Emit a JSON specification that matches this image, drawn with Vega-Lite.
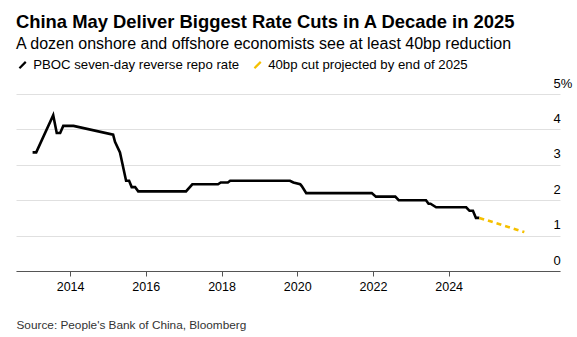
{
  "$schema": "https://vega.github.io/schema/vega-lite/v6.json",
  "autosize": "none",
  "width": 544,
  "height": 177,
  "padding": {"left": 16, "top": 94, "right": 17, "bottom": 66},
  "background": "white",
  "title": {
    "text": "China May Deliver Biggest Rate Cuts in A Decade in 2025",
    "subtitle": "A dozen onshore and offshore economists see at least 40bp reduction",
    "anchor": "start",
    "font": "Liberation Sans",
    "fontSize": 18.4,
    "fontWeight": "bold",
    "color": "#000000",
    "subtitleFont": "Liberation Sans",
    "subtitleFontSize": 16,
    "subtitleColor": "#000000",
    "subtitlePadding": 5,
    "offset": 6
  },
  "datasets": {
    "rates": [
      {"date": "2013-01-04", "rate": 3.35, "series": "PBOC seven-day reverse repo rate"},
      {"date": "2013-02-08", "rate": 3.35, "series": "PBOC seven-day reverse repo rate"},
      {"date": "2013-07-22", "rate": 4.4, "series": "PBOC seven-day reverse repo rate"},
      {"date": "2013-08-25", "rate": 3.9, "series": "PBOC seven-day reverse repo rate"},
      {"date": "2013-09-27", "rate": 3.9, "series": "PBOC seven-day reverse repo rate"},
      {"date": "2013-10-27", "rate": 4.1, "series": "PBOC seven-day reverse repo rate"},
      {"date": "2014-02-03", "rate": 4.1, "series": "PBOC seven-day reverse repo rate"},
      {"date": "2015-02-20", "rate": 3.85, "series": "PBOC seven-day reverse repo rate"},
      {"date": "2015-03-10", "rate": 3.65, "series": "PBOC seven-day reverse repo rate"},
      {"date": "2015-04-27", "rate": 3.35, "series": "PBOC seven-day reverse repo rate"},
      {"date": "2015-06-25", "rate": 2.55, "series": "PBOC seven-day reverse repo rate"},
      {"date": "2015-07-24", "rate": 2.55, "series": "PBOC seven-day reverse repo rate"},
      {"date": "2015-08-18", "rate": 2.37, "series": "PBOC seven-day reverse repo rate"},
      {"date": "2015-09-20", "rate": 2.37, "series": "PBOC seven-day reverse repo rate"},
      {"date": "2015-10-20", "rate": 2.25, "series": "PBOC seven-day reverse repo rate"},
      {"date": "2017-01-23", "rate": 2.25, "series": "PBOC seven-day reverse repo rate"},
      {"date": "2017-03-25", "rate": 2.45, "series": "PBOC seven-day reverse repo rate"},
      {"date": "2017-11-28", "rate": 2.45, "series": "PBOC seven-day reverse repo rate"},
      {"date": "2017-12-24", "rate": 2.5, "series": "PBOC seven-day reverse repo rate"},
      {"date": "2018-03-03", "rate": 2.5, "series": "PBOC seven-day reverse repo rate"},
      {"date": "2018-03-25", "rate": 2.55, "series": "PBOC seven-day reverse repo rate"},
      {"date": "2019-10-23", "rate": 2.55, "series": "PBOC seven-day reverse repo rate"},
      {"date": "2019-11-25", "rate": 2.5, "series": "PBOC seven-day reverse repo rate"},
      {"date": "2020-01-30", "rate": 2.45, "series": "PBOC seven-day reverse repo rate"},
      {"date": "2020-02-14", "rate": 2.4, "series": "PBOC seven-day reverse repo rate"},
      {"date": "2020-03-28", "rate": 2.2, "series": "PBOC seven-day reverse repo rate"},
      {"date": "2021-12-20", "rate": 2.2, "series": "PBOC seven-day reverse repo rate"},
      {"date": "2022-01-29", "rate": 2.1, "series": "PBOC seven-day reverse repo rate"},
      {"date": "2022-08-04", "rate": 2.1, "series": "PBOC seven-day reverse repo rate"},
      {"date": "2022-09-06", "rate": 2.0, "series": "PBOC seven-day reverse repo rate"},
      {"date": "2023-05-27", "rate": 2.0, "series": "PBOC seven-day reverse repo rate"},
      {"date": "2023-06-21", "rate": 1.9, "series": "PBOC seven-day reverse repo rate"},
      {"date": "2023-07-10", "rate": 1.9, "series": "PBOC seven-day reverse repo rate"},
      {"date": "2023-09-02", "rate": 1.8, "series": "PBOC seven-day reverse repo rate"},
      {"date": "2024-06-18", "rate": 1.8, "series": "PBOC seven-day reverse repo rate"},
      {"date": "2024-07-20", "rate": 1.7, "series": "PBOC seven-day reverse repo rate"},
      {"date": "2024-08-22", "rate": 1.7, "series": "PBOC seven-day reverse repo rate"},
      {"date": "2024-09-20", "rate": 1.5, "series": "PBOC seven-day reverse repo rate"},
      {"date": "2024-10-23", "rate": 1.5, "series": "PBOC seven-day reverse repo rate"}
    ],
    "projection": [
      {"date": "2024-10-23", "rate": 1.5, "series": "40bp cut projected by end of 2025"},
      {"date": "2025-12-31", "rate": 1.1, "series": "40bp cut projected by end of 2025"}
    ]
  },
  "encoding": {
    "x": {
      "field": "date",
      "type": "temporal",
      "scale": {"domain": ["2012-07-28", "2026-12-10"]},
      "axis": {
        "values": [{"year": 2014}, {"year": 2016}, {"year": 2018}, {"year": 2020}, {"year": 2022}, {"year": 2024}],
        "format": "%Y",
        "grid": false,
        "domainColor": "#555555",
        "domainWidth": 1,
        "tickColor": "#555555",
        "tickSize": 5,
        "labelFont": "Liberation Sans",
        "labelFontSize": 12.5,
        "labelColor": "#000000",
        "labelPadding": 4,
        "title": "Source: People's Bank of China, Bloomberg",
        "titleFont": "Liberation Sans",
        "titleFontSize": 11.8,
        "titleFontWeight": "normal",
        "titleColor": "#333333",
        "titleAnchor": "start",
        "titleAlign": "left",
        "titleBaseline": "alphabetic",
        "titleX": 0,
        "titleY": 57
      }
    },
    "y": {
      "field": "rate",
      "type": "quantitative",
      "scale": {"domain": [0, 5], "nice": false},
      "axis": {
        "orient": "right",
        "values": [0, 1, 2, 3, 4, 5],
        "labelExpr": "datum.value == 5 ? '5%' : datum.label",
        "domain": false,
        "ticks": false,
        "grid": true,
        "gridColor": "#e0e0e0",
        "gridWidth": 1,
        "labelAlign": "left",
        "labelBaseline": "alphabetic",
        "labelOffset": -7,
        "labelPadding": -7,
        "labelFont": "Liberation Sans",
        "labelFontSize": 13,
        "labelColor": "#000000",
        "title": null
      }
    },
    "color": {
      "field": "series",
      "type": "nominal",
      "scale": {
        "domain": ["PBOC seven-day reverse repo rate", "40bp cut projected by end of 2025"],
        "range": ["#000000", "#f5c000"]
      },
      "legend": {
        "orient": "none",
        "legendX": 0,
        "legendY": -36,
        "direction": "horizontal",
        "title": null,
        "symbolType": "M-1,1L1,-1",
        "symbolSize": 40,
        "symbolStrokeWidth": 2.2,
        "symbolFillColor": "transparent",
        "labelFont": "Liberation Sans",
        "labelFontSize": 13.2,
        "labelColor": "#000000",
        "labelOffset": 4,
        "labelLimit": 400,
        "columnPadding": 10
      }
    }
  },
  "layer": [
    {
      "data": {"name": "rates"},
      "mark": {"type": "line", "strokeWidth": 2.6, "strokeJoin": "miter", "interpolate": "linear"}
    },
    {
      "data": {"name": "projection"},
      "mark": {"type": "line", "strokeWidth": 2.6, "strokeDash": [5, 4]}
    }
  ],
  "config": {
    "view": {"stroke": null},
    "legend": {"symbolStrokeColor": null}
  }
}
